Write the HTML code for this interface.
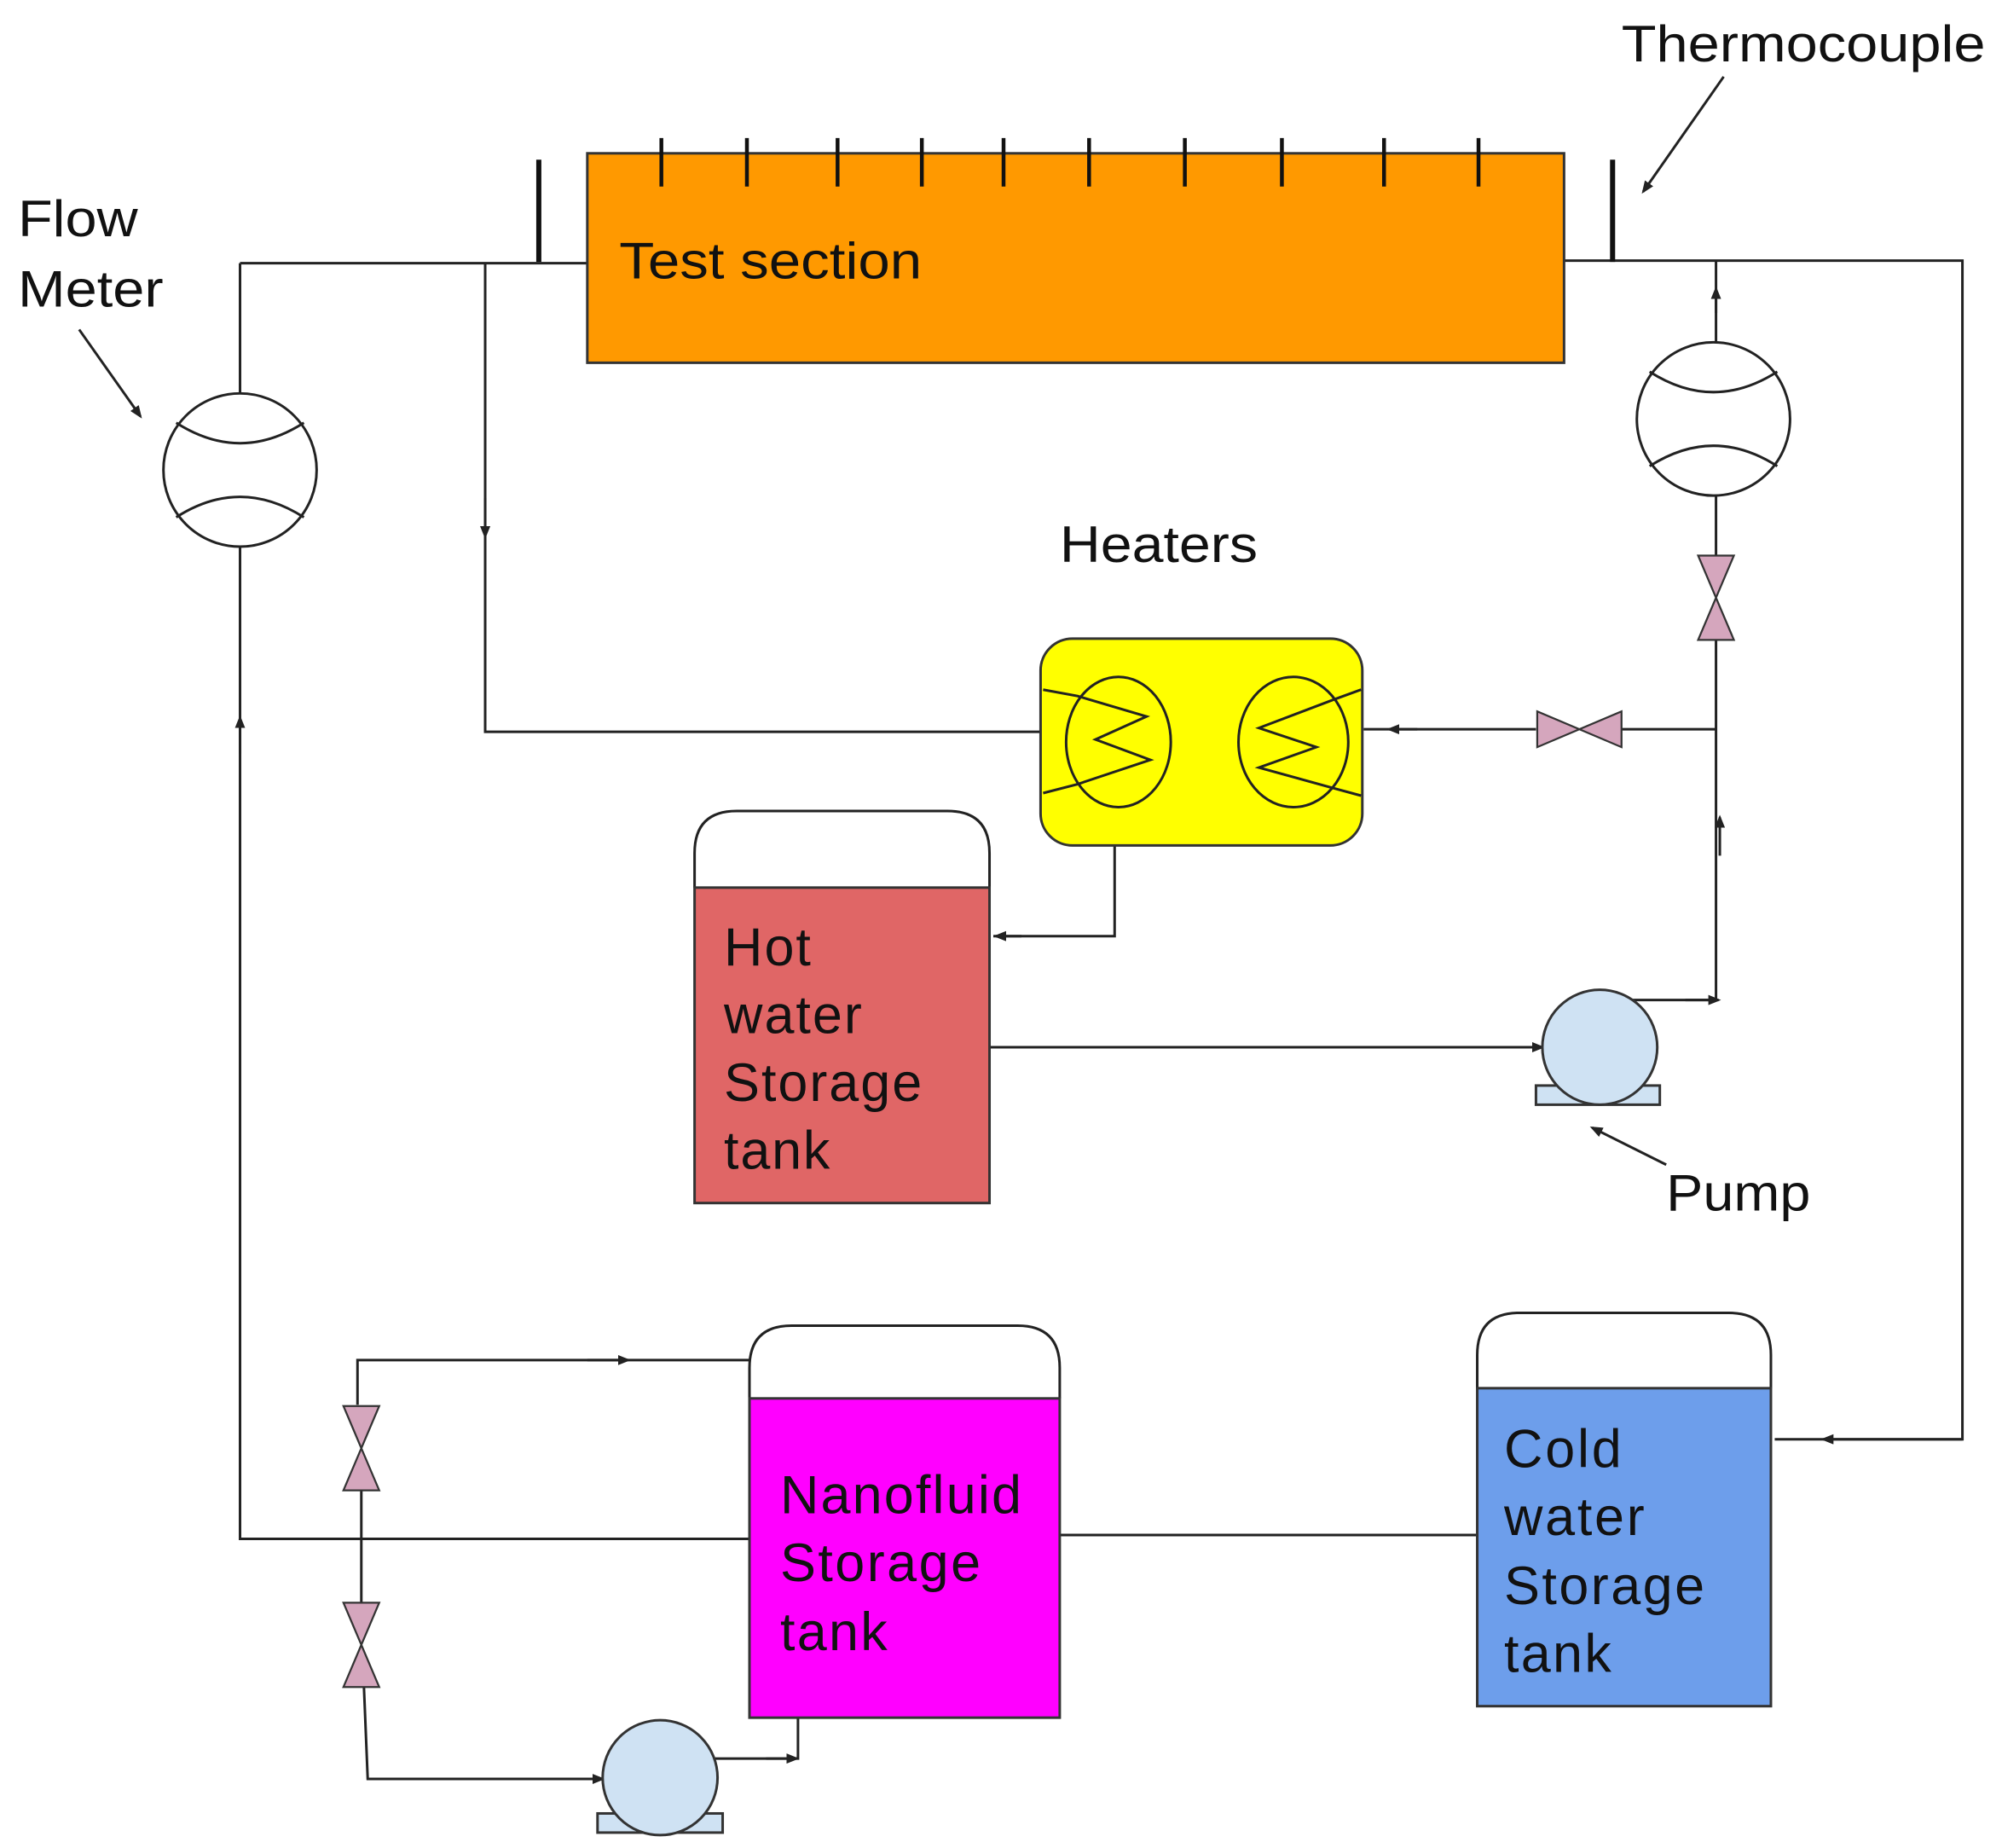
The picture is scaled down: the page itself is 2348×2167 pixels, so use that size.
<!DOCTYPE html>
<html><head><meta charset="utf-8"><style>
html,body{margin:0;padding:0;background:#fff;}
svg{display:block;}
text{font-family:"Liberation Sans",sans-serif;fill:#111;}
</style></head><body>
<svg width="2348" height="2167" viewBox="0 0 1568 1447" xmlns="http://www.w3.org/2000/svg">
<defs>
<marker id="a" markerWidth="10" markerHeight="8" refX="8" refY="4" orient="auto" markerUnits="userSpaceOnUse"><path d="M0,0 L10,4 L0,8 z" fill="#222"/></marker>
<g id="vv"><path d="M-14,-33 L14,-33 L0,0 Z M-14,33 L14,33 L0,0 Z" fill="#d5a6bd" stroke="#333" stroke-width="1.5"/></g>
<g id="hv"><path d="M-33,-14 L-33,14 L0,0 Z M33,-14 L33,14 L0,0 Z" fill="#d5a6bd" stroke="#333" stroke-width="1.5"/></g>
</defs>
<g stroke="#222" stroke-width="2" fill="none">
<path d="M188,206 L460,206"/>
<path d="M1225,204 L1537,204 L1537,1127 L1390,1127"/>
<path d="M1537,1127 L1428,1127" marker-end="url(#a)"/>
<path d="M380,206 L380,573 L815,573"/>
<path d="M380,390 L380,420" marker-end="url(#a)"/>
<path d="M188,206 L188,308 M188,428 L188,1205 L587,1205"/>
<path d="M188,590 L188,562" marker-end="url(#a)"/>
<path d="M1344,204 L1344,268 M1344,388 L1344,435 M1344,500 L1344,783 L1250,783"/>
<path d="M1344,245 L1344,226" marker-end="url(#a)"/>
<path d="M1347,670 L1347,640" marker-end="url(#a)"/>
<path d="M1320,783 L1346,783" marker-end="url(#a)"/>
<path d="M1344,571 L1270,571 M1203,571 L1068,571"/>
<path d="M1110,571 L1088,571" marker-end="url(#a)"/>
<path d="M873,662 L873,733 L778,733"/>
<path d="M800,733 L780,733" marker-end="url(#a)"/>
<path d="M775,820 L1208,820" marker-end="url(#a)"/>
<path d="M830,1202 L1157,1202"/>
<path d="M280,1100 L280,1065 L587,1065"/>
<path d="M460,1065 L492,1065" marker-end="url(#a)"/>
<path d="M283,1167 L283,1255 M285,1320 L288,1393 L472,1393"/>
<path d="M440,1393 L472,1393" marker-end="url(#a)"/>
<path d="M560,1377 L625,1377 L625,1345"/>
<path d="M600,1377 L624,1377" marker-end="url(#a)"/>
</g>
<rect x="460" y="120" width="765" height="164" fill="#ff9900" stroke="#333" stroke-width="2"/>
<g stroke="#111" stroke-width="3">
<path d="M518,108V146M585,108V146M656,108V146M722,108V146M786,108V146M853,108V146M928,108V146M1004,108V146M1084,108V146M1158,108V146"/>
<path d="M422,125V205M1263,125V205" stroke-width="4"/>
</g>
<text x="485" y="218" font-size="40" textLength="237" lengthAdjust="spacingAndGlyphs">Test section</text>
<g fill="#fff" stroke="#222" stroke-width="2">
<circle cx="188" cy="368" r="60"/>
<path d="M138,331 Q188,363 238,331 M138,405 Q188,373 238,405" fill="none"/>
<circle cx="1342" cy="328" r="60"/>
<path d="M1292,291 Q1342,323 1392,291 M1292,365 Q1342,333 1392,365" fill="none"/>
</g>
<use href="#vv" x="1344" y="468"/>
<use href="#hv" x="1237" y="571"/>
<use href="#vv" x="283" y="1134"/>
<use href="#vv" x="283" y="1288"/>
<rect x="815" y="500" width="252" height="162" rx="25" fill="#ffff00" stroke="#333" stroke-width="2"/>
<g fill="none" stroke="#222" stroke-width="2">
<ellipse cx="876" cy="581" rx="41" ry="51"/>
<ellipse cx="1013" cy="581" rx="43" ry="51"/>
<path d="M817,540 L844,545 L898,561 L858,579 L901,595 L844,614 L817,621"/>
<path d="M1066,540 L1044,548 L986,570 L1031,585 L986,601 L1044,617 L1066,623"/>
</g>
<text x="830" y="440" font-size="40" textLength="155" lengthAdjust="spacingAndGlyphs">Heaters</text>
<path d="M544,695 L544,668 Q544,635 577,635 L742,635 Q775,635 775,668 L775,695" fill="#fff" stroke="#222" stroke-width="2"/>
<rect x="544" y="695" width="231" height="247" fill="#e06666" stroke="#333" stroke-width="2"/>
<g font-size="42"><text x="567" y="756" textLength="68">Hot</text><text x="567" y="809" textLength="108">water</text><text x="567" y="862" textLength="155">Storage</text><text x="567" y="915" textLength="83">tank</text></g>
<rect x="1203" y="850" width="97" height="15" fill="#cfe2f3" stroke="#333" stroke-width="2"/>
<circle cx="1253" cy="820" r="45" fill="#cfe2f3" stroke="#333" stroke-width="2"/>
<text x="1305" y="948" font-size="40" textLength="113" lengthAdjust="spacingAndGlyphs">Pump</text>
<path d="M1305,912 L1247,883" stroke="#222" stroke-width="2" marker-end="url(#a)"/>
<text x="1270" y="48" font-size="40" textLength="285" lengthAdjust="spacingAndGlyphs">Thermocouple</text>
<path d="M1350,60 L1287,150" stroke="#222" stroke-width="2" marker-end="url(#a)"/>
<text x="14" y="185" font-size="40" textLength="94" lengthAdjust="spacingAndGlyphs">Flow</text>
<text x="14" y="240" font-size="40" textLength="114" lengthAdjust="spacingAndGlyphs">Meter</text>
<path d="M62,258 L110,326" stroke="#222" stroke-width="2" marker-end="url(#a)"/>
<path d="M587,1095 L587,1071 Q587,1038 620,1038 L797,1038 Q830,1038 830,1071 L830,1095" fill="#fff" stroke="#222" stroke-width="2"/>
<rect x="587" y="1095" width="243" height="250" fill="#ff00ff" stroke="#333" stroke-width="2"/>
<g font-size="42"><text x="611" y="1185" textLength="189">Nanofluid</text><text x="611" y="1238" textLength="157">Storage</text><text x="611" y="1292" textLength="84">tank</text></g>
<path d="M1157,1087 L1157,1061 Q1157,1028 1190,1028 L1354,1028 Q1387,1028 1387,1061 L1387,1087" fill="#fff" stroke="#222" stroke-width="2"/>
<rect x="1157" y="1087" width="230" height="249" fill="#6d9eeb" stroke="#333" stroke-width="2"/>
<g font-size="42"><text x="1178" y="1149" textLength="92">Cold</text><text x="1178" y="1202" textLength="110">water</text><text x="1178" y="1256" textLength="157">Storage</text><text x="1178" y="1309" textLength="84">tank</text></g>
<rect x="468" y="1420" width="98" height="15" fill="#cfe2f3" stroke="#333" stroke-width="2"/>
<circle cx="517" cy="1392" r="45" fill="#cfe2f3" stroke="#333" stroke-width="2"/>
</svg>
</body></html>
